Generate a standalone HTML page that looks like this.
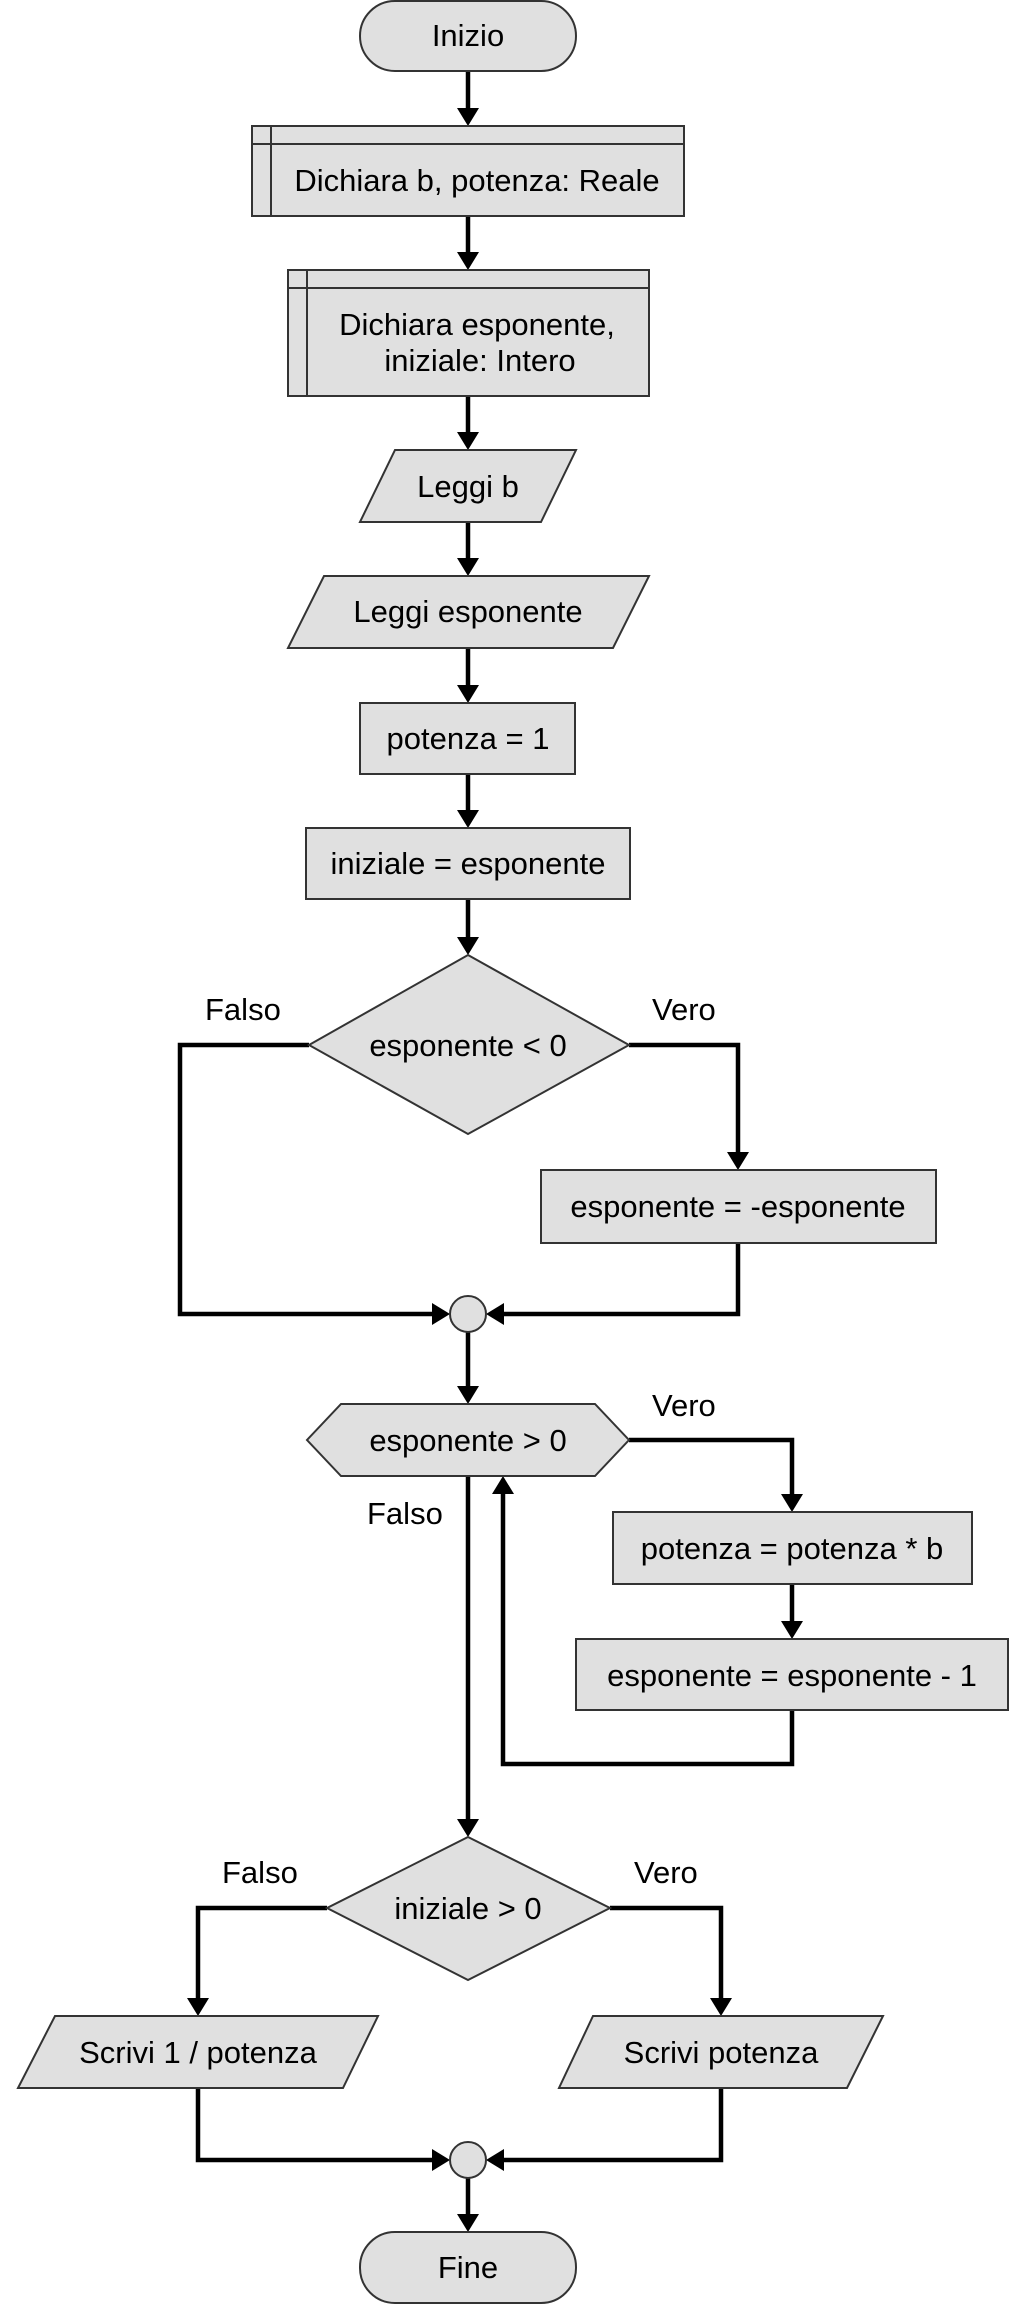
<!DOCTYPE html>
<html><head><meta charset="utf-8"><style>
html,body{margin:0;padding:0;background:#fff;}
svg{display:block;}
text{font-family:"Liberation Sans",Arial,sans-serif;font-size:31px;fill:#000;}
.s{fill:#e0e0e0;stroke:#333;stroke-width:2;}
.l{fill:none;stroke:#000;stroke-width:4.5;}
.a{fill:#000;}
</style></head><body>
<svg width="1009" height="2305" viewBox="0 0 1009 2305" xmlns="http://www.w3.org/2000/svg">
<g class="l">
<path d="M468 72V110"/>
<path d="M468 216V254"/>
<path d="M468 396V434"/>
<path d="M468 522V560"/>
<path d="M468 648V687"/>
<path d="M468 774V812"/>
<path d="M468 899V939"/>
<path d="M309 1045H180V1314H434"/>
<path d="M629 1045H738V1154"/>
<path d="M738 1243V1314H502"/>
<path d="M468 1332V1388"/>
<path d="M629 1440H792V1496"/>
<path d="M792 1584V1623"/>
<path d="M792 1710V1764H503V1492"/>
<path d="M468 1476V1821"/>
<path d="M327 1908H198V2000"/>
<path d="M610 1908H721V2000"/>
<path d="M198 2088V2160H434"/>
<path d="M721 2088V2160H502"/>
<path d="M468 2178V2216"/>
</g>
<g class="a">
<path d="M457 108L479 108L468 126Z"/>
<path d="M457 252L479 252L468 270Z"/>
<path d="M457 432L479 432L468 450Z"/>
<path d="M457 558L479 558L468 576Z"/>
<path d="M457 685L479 685L468 703Z"/>
<path d="M457 810L479 810L468 828Z"/>
<path d="M457 937L479 937L468 955Z"/>
<path d="M727 1152L749 1152L738 1170Z"/>
<path d="M432 1303L432 1325L450 1314Z"/>
<path d="M504 1303L504 1325L486 1314Z"/>
<path d="M457 1386L479 1386L468 1404Z"/>
<path d="M781 1494L803 1494L792 1512Z"/>
<path d="M781 1621L803 1621L792 1639Z"/>
<path d="M492 1494L514 1494L503 1476Z"/>
<path d="M457 1819L479 1819L468 1837Z"/>
<path d="M187 1998L209 1998L198 2016Z"/>
<path d="M710 1998L732 1998L721 2016Z"/>
<path d="M432 2149L432 2171L450 2160Z"/>
<path d="M504 2149L504 2171L486 2160Z"/>
<path d="M457 2214L479 2214L468 2232Z"/>
</g>
<rect class="s" x="360" y="1" width="216" height="70" rx="35"/>
<text x="468" y="46" text-anchor="middle">Inizio</text>

<rect class="s" x="252" y="126" width="432" height="90"/>
<path class="s" d="M252 144H684M271 126V216" fill="none"/>
<text x="477" y="191" text-anchor="middle">Dichiara b, potenza: Reale</text>

<rect class="s" x="288" y="270" width="361" height="126"/>
<path class="s" d="M288 288H649M307 270V396" fill="none"/>
<text x="477" y="335" text-anchor="middle">Dichiara esponente,</text>
<text x="480" y="371" text-anchor="middle">iniziale: Intero</text>

<path class="s" d="M395 450H576L541 522H360Z"/>
<text x="468" y="497" text-anchor="middle">Leggi b</text>

<path class="s" d="M324 576H649L613 648H288Z"/>
<text x="468" y="622" text-anchor="middle">Leggi esponente</text>

<rect class="s" x="360" y="703" width="215" height="71"/>
<text x="468" y="749" text-anchor="middle">potenza = 1</text>

<rect class="s" x="306" y="828" width="324" height="71"/>
<text x="468" y="874" text-anchor="middle">iniziale = esponente</text>

<path class="s" d="M468 955L629 1045L468 1134L309 1045Z"/>
<text x="468" y="1056" text-anchor="middle">esponente &lt; 0</text>
<text x="205" y="1020">Falso</text>
<text x="652" y="1020">Vero</text>

<rect class="s" x="541" y="1170" width="395" height="73"/>
<text x="738" y="1217" text-anchor="middle">esponente = -esponente</text>

<circle class="s" cx="468" cy="1314" r="18"/>

<path class="s" d="M341 1404H595L629 1440L595 1476H341L307 1440Z"/>
<text x="468" y="1451" text-anchor="middle">esponente &gt; 0</text>
<text x="652" y="1416">Vero</text>
<text x="367" y="1524">Falso</text>

<rect class="s" x="613" y="1512" width="359" height="72"/>
<text x="792" y="1559" text-anchor="middle">potenza = potenza * b</text>

<rect class="s" x="576" y="1639" width="432" height="71"/>
<text x="792" y="1686" text-anchor="middle">esponente = esponente - 1</text>

<path class="s" d="M468 1837L610 1908L468 1980L327 1908Z"/>
<text x="468" y="1919" text-anchor="middle">iniziale &gt; 0</text>
<text x="222" y="1883">Falso</text>
<text x="634" y="1883">Vero</text>

<path class="s" d="M55 2016H378L343 2088H18Z"/>
<text x="198" y="2063" text-anchor="middle">Scrivi 1 / potenza</text>

<path class="s" d="M593 2016H883L847 2088H559Z"/>
<text x="721" y="2063" text-anchor="middle">Scrivi potenza</text>

<circle class="s" cx="468" cy="2160" r="18"/>

<rect class="s" x="360" y="2232" width="216" height="71" rx="35"/>
<text x="468" y="2278" text-anchor="middle">Fine</text>
</svg>
</body></html>
